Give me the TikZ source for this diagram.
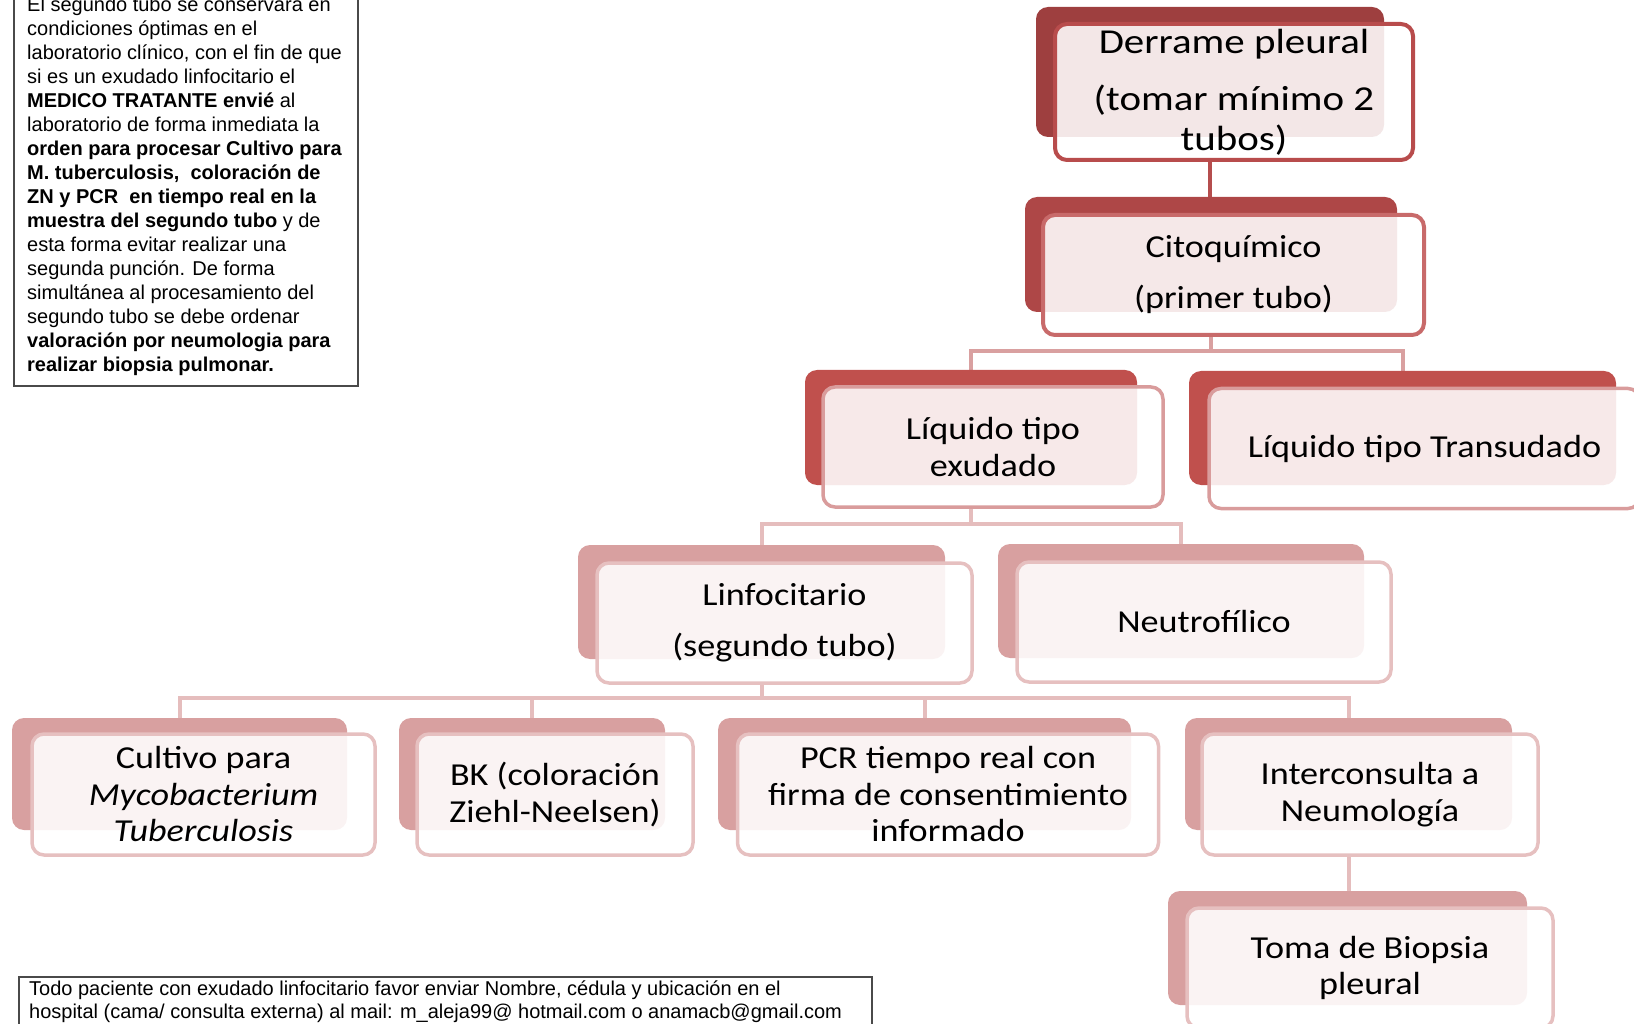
\documentclass[tikz,border=0pt]{standalone}
\usepackage{fontspec}
\setmainfont{Liberation Sans}
\newfontfamily\boxfont[FakeStretch=1.13]{Carlito}
\newfontfamily\topfont[FakeStretch=1.17]{Carlito}
\usetikzlibrary{backgrounds}
\definecolor{backA}{HTML}{9E3F3F}
\definecolor{backB}{HTML}{AE4747}
\definecolor{backC}{HTML}{C0504D}
\definecolor{backD}{HTML}{D8A0A0}
\definecolor{edgeA}{HTML}{B84C4C}
\definecolor{edgeB}{HTML}{C86A6A}
\definecolor{edgeC}{HTML}{D99C9C}
\definecolor{edgeD}{HTML}{E6C0C0}
\definecolor{linkA}{HTML}{B54D4D}
\definecolor{linkB}{HTML}{D9A0A0}
\definecolor{linkC}{HTML}{E5BDBD}
\definecolor{notegray}{HTML}{4A4A4A}
\tikzset{
  backbox/.style={rounded corners=12pt, inner sep=0pt, outer sep=0pt, draw=none},
  frontbox/.style={rounded corners=12pt, fill=white, fill opacity=0.88, text opacity=1,
    line width=3.5pt, align=center, inner sep=0pt, outer sep=0pt},
  bigtxt/.style={font=\topfont\fontsize{35}{40}\selectfont},
  midtxt/.style={font=\boxfont\fontsize{32}{37}\selectfont},
  lowtxt/.style={font=\boxfont\fontsize{32}{36.5}\selectfont},
  link/.style={line width=4pt},
  notebox/.style={draw=notegray, line width=1.5pt, inner sep=0pt},
  notetxt/.style={anchor=north west, align=left, inner sep=0pt}
}
\begin{document}
\begin{tikzpicture}[x=1pt,y=-1pt]
\useasboundingbox (0,0) rectangle (1634,1024);

% level 1
\node[backbox, fill=backA, minimum width=348pt, minimum height=130pt] (n1b) at (1210,72) {};
\node[frontbox, draw=edgeA, line width=4pt, minimum width=358pt, minimum height=136pt, bigtxt] (n1) at (1234,92)
  {Derrame pleural\\[17pt](tomar mínimo 2\\tubos)};
% level 2
\node[backbox, fill=backB, minimum width=372pt, minimum height=115pt] (n2b) at (1211,254.5) {};
\node[frontbox, draw=edgeB, line width=4pt, minimum width=381pt, minimum height=120pt, midtxt] (n2) at (1233.5,275)
  {Citoquímico\\[14pt](primer tubo)};
% level 3
\node[backbox, fill=backC, minimum width=332pt, minimum height=115pt] (n3b) at (971,427.5) {};
\node[frontbox, draw=edgeC, minimum width=340pt, minimum height=120pt, midtxt] (n3) at (993,447)
  {Líquido tipo\\exudado};
\node[backbox, fill=backC, minimum width=427pt, minimum height=114pt] (n4b) at (1402.5,428) {};
\node[frontbox, draw=edgeC, minimum width=431pt, minimum height=120pt, midtxt] (n4) at (1424.5,448.5)
  {Líquido tipo Transudado};
% level 4
\node[backbox, fill=backD, minimum width=367pt, minimum height=114pt] (n5b) at (761.5,602) {};
\node[frontbox, draw=edgeD, minimum width=375pt, minimum height=120pt, midtxt] (n5) at (784.5,623)
  {Linfocitario\\[14pt](segundo tubo)};
\node[backbox, fill=backD, minimum width=366pt, minimum height=114pt] (n6b) at (1181,601) {};
\node[frontbox, draw=edgeD, minimum width=374pt, minimum height=120pt, midtxt] (n6) at (1204,622)
  {Neutrofílico};
% level 5
\node[backbox, fill=backD, minimum width=335pt, minimum height=112pt] (n7b) at (179.5,774) {};
\node[frontbox, draw=edgeD, minimum width=343pt, minimum height=121pt, lowtxt] (n7) at (203.5,794.5)
  {Cultivo para\\\textit{Mycobacterium}\\\textit{Tuberculosis}};
\node[backbox, fill=backD, minimum width=266pt, minimum height=112pt] (n8b) at (532,774) {};
\node[frontbox, draw=edgeD, minimum width=276pt, minimum height=121pt, lowtxt] (n8) at (555,794.5)
  {BK (coloración\\Ziehl-Neelsen)};
\node[backbox, fill=backD, minimum width=413pt, minimum height=112pt] (n9b) at (924.5,774) {};
\node[frontbox, draw=edgeD, minimum width=421pt, minimum height=121pt, lowtxt] (n9) at (948,794.5)
  {PCR tiempo real con\\firma de consentimiento\\informado};
\node[backbox, fill=backD, minimum width=327pt, minimum height=112pt] (n10b) at (1348.5,774) {};
\node[frontbox, draw=edgeD, minimum width=336pt, minimum height=121pt, lowtxt] (n10) at (1370,794.5)
  {Interconsulta a\\Neumología};
% level 6
\node[backbox, fill=backD, minimum width=359pt, minimum height=114pt] (n11b) at (1347.5,948) {};
\node[frontbox, draw=edgeD, minimum width=366pt, minimum height=120pt, lowtxt] (n11) at (1370,968)
  {Toma de Biopsia\\pleural};

% connectors
\begin{pgfonlayer}{background}
\draw[link, draw=linkA] (n1b.center |- n1.south) -- (n1b.center |- n2b.north);
\coordinate (bar2) at (0,351);
\draw[link, draw=linkB] (n2b.center |- n2.south) -- (n2b.center |- bar2) -| (n3b.north);
\draw[link, draw=linkB] (n2b.center |- bar2) -| (n4b.north);
\coordinate (bar3) at (0,524);
\draw[link, draw=linkC] (n3b.center |- n3.south) -- (n3b.center |- bar3) -| (n5b.north);
\draw[link, draw=linkC] (n3b.center |- bar3) -| (n6b.north);
\coordinate (bar4) at (0,698);
\draw[link, draw=linkC] (n5b.center |- n5.south) -- (n5b.center |- bar4) -| (n7b.north);
\draw[link, draw=linkC] (n5b.center |- bar4) -| (n8b.north);
\draw[link, draw=linkC] (n5b.center |- bar4) -| (n9b.north);
\draw[link, draw=linkC] (n5b.center |- bar4) -| (n10b.north);
\draw[link, draw=linkC] (n10b.center |- n10.south) -- (n10b.center |- n11b.north);
\end{pgfonlayer}

% left note
\node[notebox, anchor=south west, minimum width=344pt, minimum height=420pt] (note) at (13,387) {};
\node[notetxt, font=\fontsize{20}{24}\selectfont] (notetext) at (27,-3)
 {El segundo tubo se conservará en\\
  condiciones óptimas en el\\
  laboratorio clínico, con el fin de que\\
  si es un exudado linfocitario el\\
  \textbf{MEDICO TRATANTE envié} al\\
  laboratorio de forma inmediata la\\
  \textbf{orden para procesar Cultivo para}\\
  \textbf{M. tuberculosis,\ \ coloración de}\\
  \textbf{ZN y PCR\ \ en tiempo real en la}\\
  \textbf{muestra del segundo tubo} y de\\
  esta forma evitar realizar una\\
  segunda punción. De forma\\
  simultánea al procesamiento del\\
  segundo tubo se debe ordenar\\
  \textbf{valoración por neumologia para}\\
  \textbf{realizar biopsia pulmonar.}};

% bottom note
\node[notebox, anchor=north west, minimum width=853pt, minimum height=80pt] (foot) at (18,976) {};
\node[notetxt, font=\fontsize{20}{23}\selectfont] (foottext) at (29,981)
 {Todo paciente con exudado linfocitario favor enviar Nombre, cédula y ubicación en el\\
  hospital (cama/ consulta externa) al mail: m\_aleja99@ hotmail.com o anamacb@gmail.com};
\end{tikzpicture}
\end{document}
